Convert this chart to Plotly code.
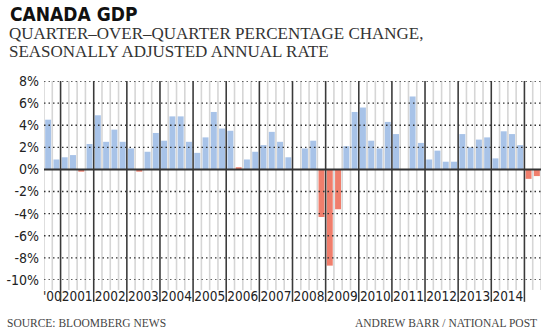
import plotly.graph_objects as go

# ---- data ----
quarters = (["2000Q3", "2000Q4"] +
            [f"{y}Q{q}" for y in range(2001, 2015) for q in range(1, 5)] +
            ["2015Q1", "2015Q2"])
values = [4.5, 0.9,
          1.1, 1.3, -0.2, 2.3,
          4.9, 2.5, 3.6, 2.5,
          1.9, -0.2, 1.6, 3.3,
          2.6, 4.8, 4.8, 2.5,
          1.5, 2.9, 5.2, 3.7,
          3.5, 0.2, 0.9, 1.6,
          2.2, 3.4, 2.5, 1.1,
          0.0, 1.9, 2.6, -4.3,
          -8.7, -3.6, 2.1, 5.2,
          5.6, 2.6, 1.9, 4.3,
          3.2, 0.0, 6.6, 2.4,
          0.9, 1.7, 0.7, 0.7,
          3.2, 2.0, 2.7, 2.9,
          1.0, 3.45, 3.2, 2.2,
          -0.85, -0.6]
year_labels = ["'00", "2001", "2002", "2003", "2004", "2005", "2006", "2007",
               "2008", "2009", "2010", "2011", "2012", "2013", "2014"]
y_ticks = [8, 6, 4, 2, 0, -2, -4, -6, -8, -10]
y_ticktext = ["8%", "6%", "4%", "2%", "0%", "-2%", "-4%", "-6%", "-8%", "-10%"]

BLUE = "#a8c3e8"
RED = "#f07e6c"
colors = [RED if v < 0.3 else BLUE for v in values]
xs = list(range(len(values)))
years = [q[:4] for q in quarters]

# year groups
uniq_years = []
for y in years:
    if y not in uniq_years:
        uniq_years.append(y)
year_centers = []
year_starts = []
for y in uniq_years:
    idx = [i for i, yy in enumerate(years) if yy == y]
    year_centers.append(sum(idx) / len(idx))
    year_starts.append(idx[0])
label_pos = year_centers[:len(year_labels)]

fig = go.Figure()
fig.add_trace(go.Bar(x=xs, y=values, marker=dict(color=colors, line=dict(width=0)),
                     customdata=quarters, hovertemplate="%{customdata}: %{y}%<extra></extra>"))

shapes = []
# light quarter separators
for i in range(len(values) + 1):
    shapes.append(dict(type="line", xref="x", yref="paper", x0=i - 0.5, x1=i - 0.5,
                       y0=-0.05, y1=1, line=dict(color="#d6d6d6", width=1.6), layer="below"))
# dotted gridlines
for t in y_ticks:
    if t == 0:
        continue
    shapes.append(dict(type="line", xref="paper", yref="y", x0=0, x1=1, y0=t, y1=t,
                       line=dict(color="#333333", width=1.4, dash="1.5px,3px"), layer="above"))
# year separators
for s in year_starts[1:]:
    shapes.append(dict(type="line", xref="x", yref="paper", x0=s - 0.5, x1=s - 0.5,
                       y0=-0.11, y1=1, line=dict(color="#3a3a3a", width=1.5), layer="above"))
# zero line
shapes.append(dict(type="line", xref="paper", yref="y", x0=0, x1=1, y0=0, y1=0,
                   line=dict(color="#333333", width=2), layer="above"))

SANS = "DejaVu Sans Condensed, Liberation Sans Narrow, DejaVu Sans"
SERIF = "Liberation Serif, DejaVu Serif"

fig.update_layout(
    width=547, height=335,
    margin=dict(l=39, r=6, t=81, b=55),
    paper_bgcolor="white", plot_bgcolor="white",
    showlegend=False, bargap=0.28,
    shapes=shapes,
    xaxis=dict(range=[-0.5, len(values) - 0.5], showgrid=False, zeroline=False,
               tickmode="array", tickvals=label_pos, ticktext=year_labels,
               ticks="", ticklabelstandoff=6, tickangle=0,
               tickfont=dict(family=SANS, size=13.5, color="#222222")),
    yaxis=dict(range=[-10, 8], showgrid=False, zeroline=False,
               tickmode="array", tickvals=y_ticks, ticktext=y_ticktext,
               ticks="", ticklabelstandoff=4,
               tickfont=dict(family=SANS, size=14, color="#222222")),
    annotations=[
        dict(text="<b>CANADA GDP</b>", xref="paper", yref="paper",
             x=(3 - 39) / 502, y=(280 - 14) / 199, xanchor="left", yanchor="middle",
             showarrow=False, font=dict(family=SANS, size=19, color="#111111")),
        dict(text="QUARTER–OVER–QUARTER PERCENTAGE CHANGE,", xref="paper", yref="paper",
             x=(2 - 39) / 502, y=(280 - 34) / 199, xanchor="left", yanchor="middle",
             showarrow=False, font=dict(family=SERIF, size=17, color="#333333")),
        dict(text="SEASONALLY ADJUSTED ANNUAL RATE", xref="paper", yref="paper",
             x=(2 - 39) / 502, y=(280 - 52) / 199, xanchor="left", yanchor="middle",
             showarrow=False, font=dict(family=SERIF, size=17, color="#333333")),
        dict(text="SOURCE: BLOOMBERG NEWS", xref="paper", yref="paper",
             x=(0 - 39) / 502, y=(280 - 323) / 199, xanchor="left", yanchor="middle",
             showarrow=False, font=dict(family=SERIF, size=11.5, color="#444444")),
        dict(text="ANDREW BARR / NATIONAL POST", xref="paper", yref="paper",
             x=(539 - 39) / 502, y=(280 - 323) / 199, xanchor="right", yanchor="middle",
             showarrow=False, font=dict(family=SERIF, size=11.5, color="#444444")),
    ],
)

fig.write_html("out.html")
